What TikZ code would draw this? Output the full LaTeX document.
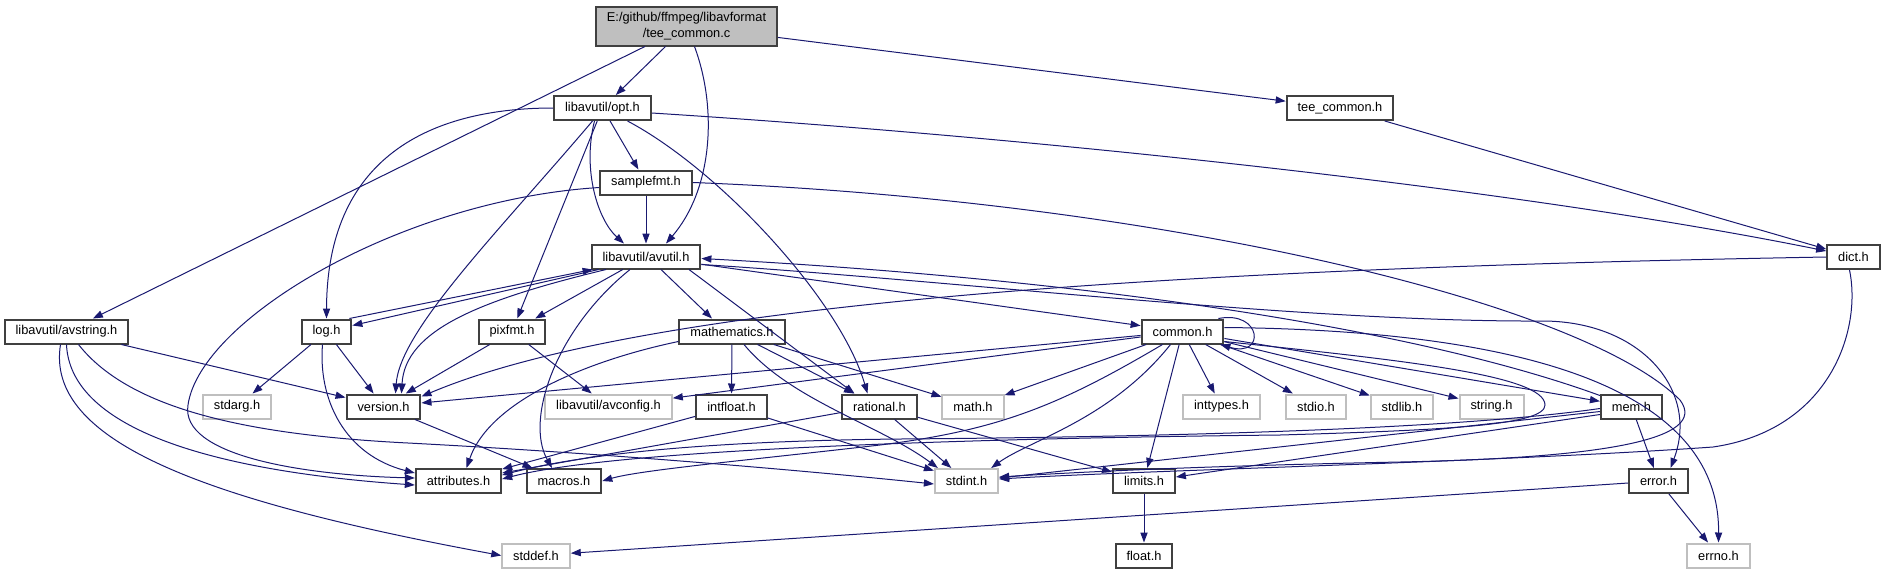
\documentclass[tikz,border=0pt]{standalone}
\usepackage{fontspec}
\setmainfont{Liberation Sans}
\usetikzlibrary{arrows.meta,calc}
\definecolor{edgeblue}{HTML}{191970}
\definecolor{boxgray}{HTML}{404040}
\definecolor{sysgray}{HTML}{BFBFBF}
\begin{document}
\begin{tikzpicture}[x=.5pt,y=-.5pt,
hdr/.style={draw=boxgray,line width=1pt,fill=white,inner xsep=5.5pt,inner ysep=0pt,minimum height=12pt,font=\fontsize{6.4}{8}\selectfont},
sys/.style={hdr,draw=sysgray},
srcbox/.style={hdr,fill=sysgray,align=center,minimum height=19.5pt},
inc/.style={draw=edgeblue,line width=.5pt,-{Triangle[length=5pt,width=3.6pt]}}]
\useasboundingbox(0,0)rectangle(1886,575);
\node[srcbox](src)at(686.5,26){E:/github/ffmpeg/libavformat\\/tee\_common.c};
\node[hdr](opt)at(602.5,108){libavutil/opt.h};\node[hdr](teeh)at(1340,108){tee\_common.h};
\node[hdr](smpfmt)at(646,182.5){samplefmt.h};
\node[hdr](avutil)at(646,256.5){libavutil/avutil.h};\node[hdr](dict)at(1853.5,257){dict.h};
\node[hdr](avstr)at(66.5,331.5){libavutil/avstring.h};\node[hdr](log)at(326.5,331.5){log.h};
\node[hdr](pixfmt)at(512,331.5){pixfmt.h};\node[hdr](mathx)at(732,331.5){mathematics.h};
\node[hdr](common)at(1182.5,331.5){common.h};
\node[sys](stdarg)at(237,406.5){stdarg.h};\node[hdr](version)at(383.5,406.5){version.h};
\node[sys](avcfg)at(608.5,406.5){libavutil/avconfig.h};\node[hdr](intflt)at(731.5,406.5){intfloat.h};
\node[hdr](rational)at(879.5,406.5){rational.h};\node[sys](math)at(973,406.5){math.h};
\node[sys](inttypes)at(1221.5,406.5){inttypes.h};\node[sys](stdio)at(1316,406.5){stdio.h};
\node[sys](stdlib)at(1402,406.5){stdlib.h};\node[sys](string)at(1491.5,406.5){string.h};
\node[hdr](mem)at(1631.5,406.5){mem.h};
\node[hdr](attr)at(458.5,481){attributes.h};\node[hdr](macros)at(564,481){macros.h};
\node[sys](stdint)at(966.5,481){stdint.h};\node[hdr](limits)at(1144,481){limits.h};
\node[hdr](error)at(1658.5,481){error.h};
\node[sys](stddef)at(536,555.5){stddef.h};\node[hdr](float)at(1144,555.5){float.h};
\node[sys](errno)at(1718.5,555.5){errno.h};
% tee_common.c
\draw[inc](src)--(opt);\draw[inc](src)--(avstr);\draw[inc](src)--(teeh);
\draw[inc]($(src.south)+(8,0)$)..controls(718,110)and(712,190)..($(avutil.north)+(20,0)$);
\draw[inc](teeh)--(dict);
% opt.h
\draw[inc]($(opt.east)+(0,5)$)..controls(1000,135)and(1500,185)..($(dict.west)+(0,-6)$);
\draw[inc](opt.west)..controls(440,108)and(327,150)..(log.north);
\draw[inc](opt)--(smpfmt);\draw[inc](opt)--(pixfmt);
\draw[inc]($(opt.south)+(-8,0)$)..controls(582,170)and(598,220)..($(avutil.north)+(-22,0)$);
\draw[inc]($(opt.south)+(-10,0)$)..controls(500,230)and(400,330)..($(version.north)+(12,0)$);
\draw[inc]($(opt.south)+(25,0)$)..controls(720,170)and(840,300)..($(rational.north)+(-12,0)$);
% samplefmt.h
\draw[inc](smpfmt)--(avutil);
\draw[inc]($(smpfmt.west)+(0,5)$)..controls(400,200)and(200,320)..(188,405)..controls(180,455)and(300,475)..($(attr.west)+(0,-3)$);
\draw[inc](smpfmt.east)..controls(1150,200)and(1580,300)..(1680,400)..controls(1710,440)and(1600,458)..(1400,462)..controls(1200,466)and(1080,472)..($(stdint.east)+(0,-4)$);
% avutil.h
\draw[inc]($(avutil.south west)+(8,0)$)--($(log.east)+(0,-6)$);
\draw[inc]($(log.north east)+(-3,0)$)--($(avutil.south west)+(2,0)$);
\draw[inc](avutil)--(pixfmt);
\draw[inc]($(avutil.south)+(-40,0)$)..controls(480,300)and(405,330)..($(version.north)+(18,0)$);
\draw[inc]($(avutil.south)+(15,0)$)--($(mathx.north)+(-20,0)$);
\draw[inc]($(avutil.south)+(43,0)$)--($(rational.north)+(-25,0)$);
\draw[inc]($(avutil.south)+(-16,0)$)..controls(555,330)and(525,420)..($(macros.north)+(-12,0)$);
\draw[inc](avutil)--(common);
\draw[inc]($(avutil.east)+(0,8)$)..controls(950,280)and(1300,322)..(1540,321)..controls(1640,320)and(1700,390)..($(error.north)+(12,0)$);
% dict.h
\draw[inc](dict.west)..controls(1200,268)and(650,300)..($(version.east)+(0,-10)$);
\draw[inc]($(dict.south)+(-4,0)$)..controls(1862,330)and(1830,430)..(1713,447)..controls(1500,462)and(1150,470)..($(stdint.east)+(0,-2)$);
% avstring.h
\draw[inc](avstr)--(version);
\draw[inc](avstr.south)..controls(70,425)and(200,470)..($(attr.west)+(0,4)$);
\draw[inc]($(avstr.south)+(-6,0)$)..controls(45,440)and(200,500)..(stddef.west);
\draw[inc]($(avstr.south)+(12,0)$)..controls(130,410)and(250,435)..(408,443)..controls(600,453)and(800,470)..($(stdint.west)+(0,3)$);
% log.h
\draw[inc](log)--(stdarg);\draw[inc](log)--(version);
\draw[inc]($(log.south)+(-4,0)$)..controls(318,400)and(345,455)..($(attr.west)+(0,-8)$);
% pixfmt.h, mathematics.h, version.h
\draw[inc](pixfmt)--(version);\draw[inc](pixfmt)--(avcfg);
\draw[inc]($(mathx.west)+(0,10)$)..controls(590,360)and(490,400)..($(attr.north)+(8,0)$);
\draw[inc](mathx)--(intflt);\draw[inc](mathx)--(rational);\draw[inc](mathx)--(math);
\draw[inc]($(mathx.south)+(12,0)$)..controls(790,400)and(880,425)..($(stdint.north west)+(4,0)$);
\draw[inc](version)--(macros);
% intfloat.h, rational.h
\draw[inc](intflt)--(attr);\draw[inc](intflt)--(stdint);
\draw[inc](rational)--(stdint);\draw[inc](rational)--(limits);
\draw[inc]($(rational.west)+(0,6)$)--($(attr.east)+(0,-8)$);
% common.h
\draw[inc]($(common.north east)+(-6,0)$)..controls(1262,310)and(1266,358)..($(common.south east)+(-4,0)$);
\draw[inc](common)--(version);\draw[inc](common)--(avcfg);\draw[inc](common)--(math);
\draw[inc]($(common.south)+(-20,0)$)..controls(1060,405)and(1000,430)..(880,445)..controls(750,460)and(640,470)..(macros.east);
\draw[inc]($(common.south)+(-12,0)$)..controls(1110,420)and(1030,440)..($(stdint.north east)+(-8,0)$);
\draw[inc]($(common.east)+(0,10)$)..controls(1400,360)and(1545,375)..(1545,405)..controls(1545,425)and(1450,430)..(1280,435)..controls(1000,438)and(620,448)..($(attr.east)+(0,-2)$);
\draw[inc](common)--(limits);\draw[inc](common)--(inttypes);\draw[inc](common)--(stdio);
\draw[inc](common)--(stdlib);\draw[inc](common)--(string);\draw[inc](common)--(mem);
\draw[inc]($(common.east)+(0,-4)$)..controls(1500,330)and(1720,380)..(errno.north);
% mem.h
\draw[inc](mem)--(error);
\draw[inc]($(mem.west)+(0,8)$)--($(limits.east)+(0,-4)$);
\draw[inc]($(mem.west)+(0,5)$)--($(stdint.east)+(0,-3)$);
\draw[inc]($(mem.west)+(0,2)$)..controls(1450,430)and(1150,437)..(900,439)..controls(700,441)and(580,455)..($(attr.east)+(0,-6)$);
\draw[inc]($(mem.north west)+(0,2)$)..controls(1420,330)and(1100,280)..($(avutil.east)+(0,2)$);
% error.h, limits.h
\draw[inc](error)--(stddef);\draw[inc](error)--(errno);
\draw[inc](limits)--(float);
\end{tikzpicture}
\end{document}
